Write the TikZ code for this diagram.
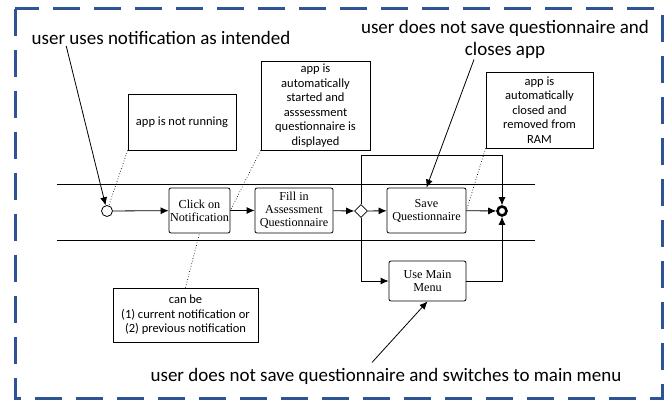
\documentclass[tikz,border=0pt]{standalone}
\usepackage{fontspec}
\setmainfont{Liberation Serif}
\newfontfamily\calibri{Carlito}
\usetikzlibrary{arrows.meta,positioning,shapes.geometric,calc}
\definecolor{frameblue}{RGB}{47,84,150}

\begin{document}
\begin{tikzpicture}[x=1pt,y=-1pt,line width=0.8pt,
        task/.style={draw,rounded corners=2pt,align=center,inner sep=0.5pt,font=\fontsize{12.2}{13}\selectfont},
        note/.style={draw,align=center,inner sep=2pt,font=\calibri\fontsize{12.5}{14.5}\selectfont},
        remark/.style={align=center,inner sep=1pt,font=\calibri\fontsize{19}{22}\selectfont},
        flow/.style={-{Latex[length=8pt,width=7pt]}},
        assoc/.style={dotted,line width=0.7pt}]
      \useasboundingbox (0,0) rectangle (665,403);
      \draw[frameblue,line width=3pt,dash pattern=on 27pt off 14pt] (15,9) rectangle (662,399);
      % lane
      \draw (57,184) -- (535,184);
      \draw (57,240) -- (535,240);
      % flow elements
      \node[circle,draw,minimum size=11pt,inner sep=0pt] (start) at (107,211) {};
      \node[task,minimum width=61pt,minimum height=45pt] (click) at (199.5,210.5) {Click on\\Notification};
      \node[task,minimum width=78pt,minimum height=45pt] (fill) at (294,210.5) {Fill in\\Assessment\\Questionnaire};
      \node[diamond,draw,minimum size=13pt,inner sep=0pt] (gw) at (361,211) {};
      \node[task,minimum width=79pt,minimum height=45pt] (save) at (426.5,210.5) {Save\\Questionnaire};
      \node[task,minimum width=77pt,minimum height=40pt] (menu) at (427.5,281) {Use Main\\Menu};
      \node[circle,draw,line width=2.6pt,minimum size=9pt,inner sep=0pt] (end) at (502,211) {};
      \draw[flow] (start) -- (click);
      \draw[flow] (click) -- (fill);
      \draw[flow] (fill) -- (gw);
      \draw[flow] (gw) -- (save);
      \draw[flow] (save) -- (end);
      \draw[flow] (gw.north) -- ++(0,-49) -| (end.north);
      \draw[flow] (gw.south) |- (menu.west);
      \draw[flow] (menu.east) -| (end.south);
      % notes
      \node[note,minimum width=108pt,minimum height=56pt] (notrun) at (182,122) {app is not running};
      \node[note,minimum width=109pt,minimum height=89pt] (started) at (315.5,105.5) {app is\\automatically\\started and\\asssessment\\questionnaire is\\displayed};
      \node[note,minimum width=107pt,minimum height=76pt] (ram) at (539.5,110) {app is\\automatically\\closed and\\removed from\\RAM};
      \node[note,minimum width=145pt,minimum height=54pt] (canbe) at (185.5,315) {can be\\(1) current notification or\\(2) previous notification};
      \draw[assoc] (notrun.south west) -- (start);
      \draw[assoc] (started.south west) -- (click.east);
      \draw[assoc] (ram.south west) -- (save.east);
      \draw[assoc] (canbe.north) -- (click.south);
      % remarks
      \node[remark] (intended) at (161,38) {user uses notification as intended};
      \node[remark] (closes) at (505,39) {user does not save questionnaire and\\closes app};
      \node[remark] (switches) at (386,376) {user does not save questionnaire and switches to main menu};
      \draw[flow] ($(intended.south west)+(36,0)$) -- (start);
      \draw[flow] ($(closes.south)+(-31,0)$) -- (save.north);
      \draw[flow] ($(switches.north)+(-14,-4)$) -- (menu.south);
\end{tikzpicture}
\end{document}
